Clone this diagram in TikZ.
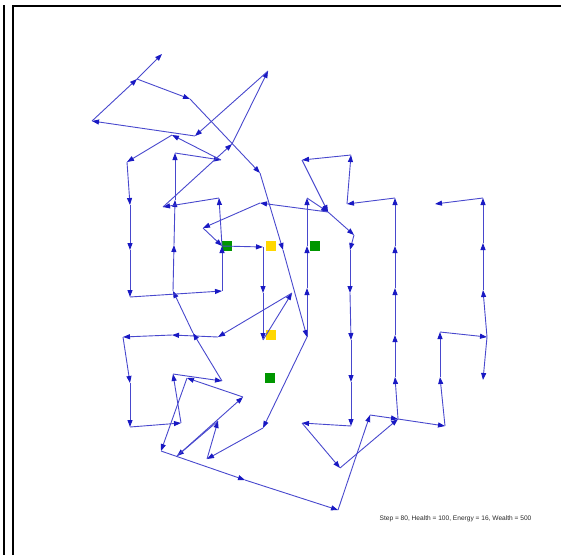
\documentclass[tikz,border=0pt]{standalone}
\usepackage{fontspec}
\setmainfont{Liberation Sans}
\usetikzlibrary{arrows.meta}
\definecolor{walk}{RGB}{72,72,205}
\definecolor{tipblue}{RGB}{25,25,195}
\definecolor{grn}{RGB}{0,150,0}
\definecolor{ylw}{RGB}{255,215,0}
\begin{document}
\begin{tikzpicture}[x=1pt,y=-1pt,
  seg/.style={draw=walk, line width=0.9pt, -{Triangle[length=7pt,width=5pt,color=tipblue]}},
  sq/.style={draw=none, minimum size=10.5pt, inner sep=0pt},
  frameline/.style={draw=black, line width=2pt}]
\useasboundingbox (0,0) rectangle (561,555);
% frame
\draw[frameline] (3.7,5) -- (3.7,555);
\draw[frameline] (13,555) -- (13,5.7) -- (561,5.7);
% coordinates of the walk
\coordinate (A) at (162,54);
\coordinate (B) at (137,79);
\coordinate (C) at (190,99);
\coordinate (D) at (92,121);
\coordinate (F) at (195,136);
\coordinate (H) at (268,71);
\coordinate (V) at (232,144);
\coordinate (G) at (260,173);
\coordinate (W) at (163,207);
\coordinate (E) at (172,135);
\coordinate (I) at (127,162);
\coordinate (J) at (221,160);
\coordinate (K) at (175,153);
\coordinate (L2) at (175,200);
\coordinate (L3) at (174,245);
\coordinate (L4) at (173,291);
\coordinate (M) at (219,198);
\coordinate (U1) at (130,205);
\coordinate (U2) at (130,250);
\coordinate (U3) at (130,297);
\coordinate (T1) at (222,291);
\coordinate (T2) at (222,246);
\coordinate (S1) at (193,333);
\coordinate (R1) at (173,374);
\coordinate (R2) at (187,378);
\coordinate (R3) at (222,381);
\coordinate (R4) at (243,397);
\coordinate (R5) at (181,423);
\coordinate (R6) at (130,427);
\coordinate (R7) at (161,451);
\coordinate (R8) at (177,456);
\coordinate (R9) at (218,421);
\coordinate (R10) at (207,459);
\coordinate (R11) at (263,428);
\coordinate (R12) at (245,480);
\coordinate (Y1) at (218,337);
\coordinate (Y2) at (172,335);
\coordinate (Y3) at (123,337);
\coordinate (Y4) at (130,383);
\coordinate (Z0) at (292,293);
\coordinate (Z1) at (263,340);
\coordinate (X1) at (263,247);
\coordinate (X2) at (263,293);
\coordinate (N) at (260,203);
\coordinate (N2) at (203,228);
\coordinate (P1) at (302,160);
\coordinate (P2) at (351,155);
\coordinate (P3) at (347,204);
\coordinate (P4) at (395,198);
\coordinate (P5) at (328,212);
\coordinate (P6) at (307,198);
\coordinate (P7) at (354,235);
\coordinate (O1) at (283,250);
\coordinate (O2) at (307,337);
\coordinate (O3) at (307,288);
\coordinate (O4) at (307,246);
\coordinate (Q1) at (350,250);
\coordinate (Q2) at (350,293);
\coordinate (Q3) at (351,340);
\coordinate (Q4) at (351,382);
\coordinate (Q5) at (351,426);
\coordinate (Q6) at (302,423);
\coordinate (Q7) at (340,468);
\coordinate (Q8) at (398,419);
\coordinate (Q9) at (338,510);
\coordinate (Q10) at (370,415);
\coordinate (Q11) at (395,377);
\coordinate (Q12) at (395,335);
\coordinate (Q13) at (395,288);
\coordinate (Q14) at (395,246);
\coordinate (W1) at (445,426);
\coordinate (W2) at (440,377);
\coordinate (W3) at (440,332);
\coordinate (W4) at (487,337);
\coordinate (W5) at (483,380);
\coordinate (W6) at (483,290);
\coordinate (W7) at (483,243);
\coordinate (W8) at (483,198);
\coordinate (W9) at (435,204);
% resource squares
\node[sq, fill=grn] (g1) at (227,246) {};
\node[sq, fill=grn] (g2) at (315,246) {};
\node[sq, fill=grn] (g3) at (270,378) {};
\node[sq, fill=ylw] (y1) at (271,246) {};
\node[sq, fill=ylw] (y2) at (271,335) {};
% the walk
\foreach \a/\b in {B/C,C/G,G/O1,O1/O2,O2/R11,R11/R10,R10/R9,R9/R8,R8/R4,R4/R2,R2/R7,R7/R12,R12/Q9,Q9/Q10,Q10/Q8,Q8/W1,W1/W2,W2/W3,W3/W4,W4/W5,
  W4/W6,W6/W7,W7/W8,W8/W9,
  O2/O3,O3/O4,O4/P6,P6/P5,P5/P7,P7/Q1,Q1/Q2,Q2/Q3,Q3/Q4,Q4/Q5,Q5/Q6,Q6/Q7,Q7/Q8,Q8/Q11,Q11/Q12,Q12/Q13,Q13/Q14,Q14/P4,P4/P3,P3/P2,P2/P1,P1/P5,P5/N,N/N2,N2/T2,T2/X1,X1/X2,X2/Z1,Z1/Z0,Z0/Y1,Y1/Y2,Y2/Y3,Y3/Y4,Y4/R6,R6/R5,R5/R1,R1/R3,R3/S1,S1/L4,L4/L3,L3/L2,L2/K,K/J,J/E,E/I,I/U1,U1/U2,U2/U3,U3/T1,T1/T2,T2/M,M/W,W/V,V/H,H/F,F/D,D/B,B/A}
  \draw[seg] (\a) -- (\b);
% status text
\node[font=\fontsize{6.6}{8}\selectfont, text=black!85, inner sep=0pt] (status) at (455.5,519) {Step = 80, Health = 100, Energy = 16, Wealth = 500};
\end{tikzpicture}
\end{document}
